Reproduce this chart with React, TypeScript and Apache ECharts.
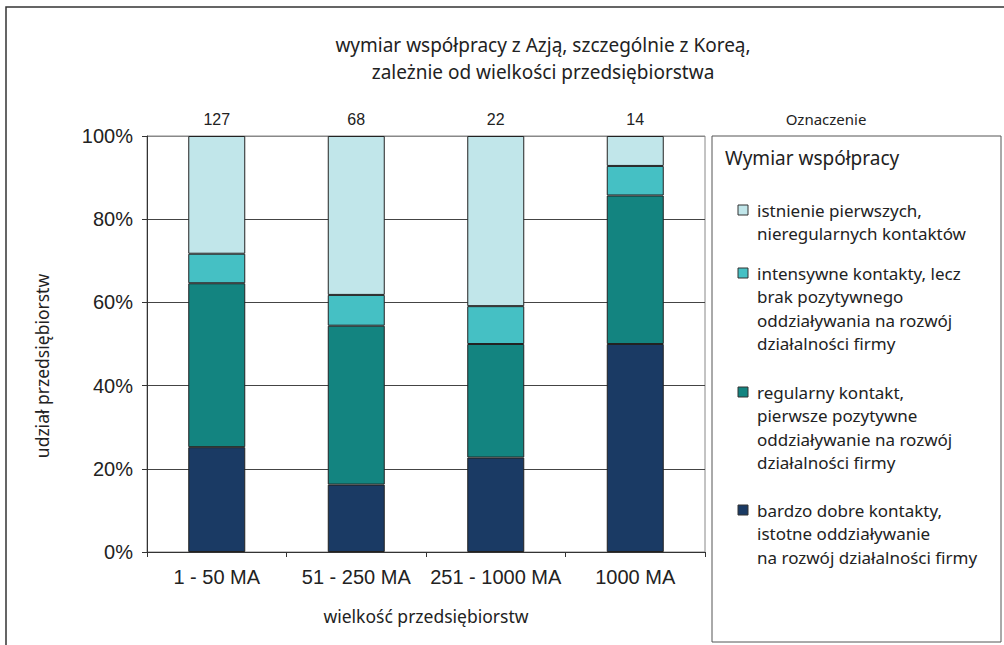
import React, { useEffect, useRef } from "react";
import * as echarts from "echarts";

// Company size groups and number of firms in each group
const categories = ["1 - 50 MA", "51 - 250 MA", "251 - 1000 MA", "1000 MA"];
const firmCounts = [127, 68, 22, 14];

// Share of firms (%) per cooperation level, stacked bottom to top
const veryGood = [25.2, 16.2, 22.7, 50.0];
const regular = [39.4, 38.2, 27.3, 35.7];
const intensive = [7.1, 7.4, 9.1, 7.1];
const firstContacts = [28.3, 38.2, 40.9, 7.2];

const yTicks = [0, 20, 40, 60, 80, 100];

const seriesNames = [
  "bardzo dobre kontakty,\nistotne oddziaływanie\nna rozwój działalności firmy",
  "regularny kontakt,\npierwsze pozytywne\noddziaływanie na rozwój\ndziałalności firmy",
  "intensywne kontakty, lecz\nbrak pozytywnego\noddziaływania na rozwój\ndziałalności firmy",
  "istnienie pierwszych,\nnieregularnych kontaktów",
];
const seriesColors = ["#1a3a64", "#138480", "#45c0c4", "#c1e6ea"];
const seriesValues = [veryGood, regular, intensive, firstContacts];

const HUMANIST = "'Noto Sans', 'Open Sans', sans-serif";
const ARIAL = "'Liberation Sans', Arial, sans-serif";

export default function App() {
  const ref = useRef<HTMLDivElement>(null);

  useEffect(() => {
    if (!ref.current) return;
    const chart = echarts.init(ref.current, undefined, { renderer: "svg" });

    // legend key block, listed top-down (reverse of stacking order)
    const legendTop = [210, 273, 392, 510];
    const lineH = 23.5;
    const legendItems: any[] = [];
    [3, 2, 1, 0].forEach((si, k) => {
      const y = legendTop[k];
      legendItems.push({
        type: "rect",
        shape: { x: 738, y: y - 5, width: 10, height: 10 },
        style: { fill: seriesColors[si], stroke: "#333", lineWidth: 1 },
      });
      legendItems.push({
        type: "text",
        x: 757,
        y: y - lineH / 2,
        style: {
          text: seriesNames[si],
          font: `17px ${HUMANIST}`,
          lineHeight: lineH,
          fill: "#222",
          textVerticalAlign: "top",
        },
      });
    });

    const option: any = {
      animation: false,
      backgroundColor: "#ffffff",
      title: {
        text: "wymiar współpracy z Azją, szczególnie z Koreą,\nzależnie od wielkości przedsiębiorstwa",
        left: 543,
        top: 31,
        textAlign: "center",
        padding: 0,
        textStyle: {
          fontFamily: HUMANIST,
          fontSize: 19,
          fontWeight: "normal",
          color: "#222",
          lineHeight: 27,
        },
      },
      grid: {
        left: 147,
        right: 299,
        top: 136,
        bottom: 93,
        show: true,
        borderColor: "#888",
        borderWidth: 1,
        backgroundColor: "transparent",
      },
      xAxis: {
        type: "category",
        data: categories,
        axisLine: { lineStyle: { color: "#333", width: 1 } },
        axisTick: { show: true, length: 5, lineStyle: { color: "#333" } },
        axisLabel: {
          interval: 0,
          fontFamily: ARIAL,
          fontSize: 20,
          color: "#222",
          margin: 15,
        },
      },
      yAxis: {
        type: "value",
        min: 0,
        max: 100,
        interval: 20,
        axisLine: { show: true, lineStyle: { color: "#333", width: 1 } },
        axisTick: { show: true, length: 5, lineStyle: { color: "#333" } },
        axisLabel: {
          fontFamily: ARIAL,
          fontSize: 20,
          color: "#222",
          margin: 14,
          formatter: (v: number) => (yTicks.includes(v) ? `${v}%` : ""),
        },
        splitLine: {
          show: true,
          lineStyle: { color: ["#444", "#444", "#444", "#444", "#444", "#888"], width: 1 },
        },
      },
      series: seriesValues.map((vals, i) => ({
        name: seriesNames[i],
        type: "bar",
        stack: "total",
        barWidth: 57,
        data: vals,
        itemStyle: { color: seriesColors[i], borderColor: "#222", borderWidth: 1 },
        label:
          i === seriesValues.length - 1
            ? {
                show: true,
                position: "top",
                distance: 9,
                fontFamily: ARIAL,
                fontSize: 16,
                color: "#222",
                formatter: (p: any) => String(firmCounts[p.dataIndex]),
              }
            : { show: false },
      })),
      graphic: [
        {
          type: "rect",
          shape: { x: 6, y: 7, width: 1100, height: 700 },
          style: { fill: "none", stroke: "#333", lineWidth: 1.5 },
          silent: true,
        },
        {
          type: "text",
          x: 42,
          y: 366,
          rotation: Math.PI / 2,
          style: {
            text: "udział przedsiębiorstw",
            font: `17.5px ${HUMANIST}`,
            fill: "#222",
            textAlign: "center",
            textVerticalAlign: "middle",
          },
        },
        {
          type: "text",
          x: 426,
          y: 616,
          style: {
            text: "wielkość przedsiębiorstw",
            font: `17.5px ${HUMANIST}`,
            fill: "#222",
            textAlign: "center",
            textVerticalAlign: "middle",
          },
        },
        {
          type: "text",
          x: 826,
          y: 119,
          style: {
            text: "Oznaczenie",
            font: `15px ${HUMANIST}`,
            fill: "#222",
            textAlign: "center",
            textVerticalAlign: "middle",
          },
        },
        {
          type: "rect",
          shape: { x: 712, y: 136, width: 289, height: 506 },
          style: { fill: "#fff", stroke: "#555", lineWidth: 1 },
        },
        {
          type: "text",
          x: 725,
          y: 158,
          style: {
            text: "Wymiar współpracy",
            font: `19px ${HUMANIST}`,
            fill: "#222",
            textVerticalAlign: "middle",
          },
        },
        ...legendItems,
      ],
    };

    chart.setOption(option);
    return () => chart.dispose();
  }, []);

  return (
    <div
      ref={ref}
      style={{ position: "fixed", left: 0, top: 0, width: 1004, height: 645, background: "#fff" }}
    />
  );
}
